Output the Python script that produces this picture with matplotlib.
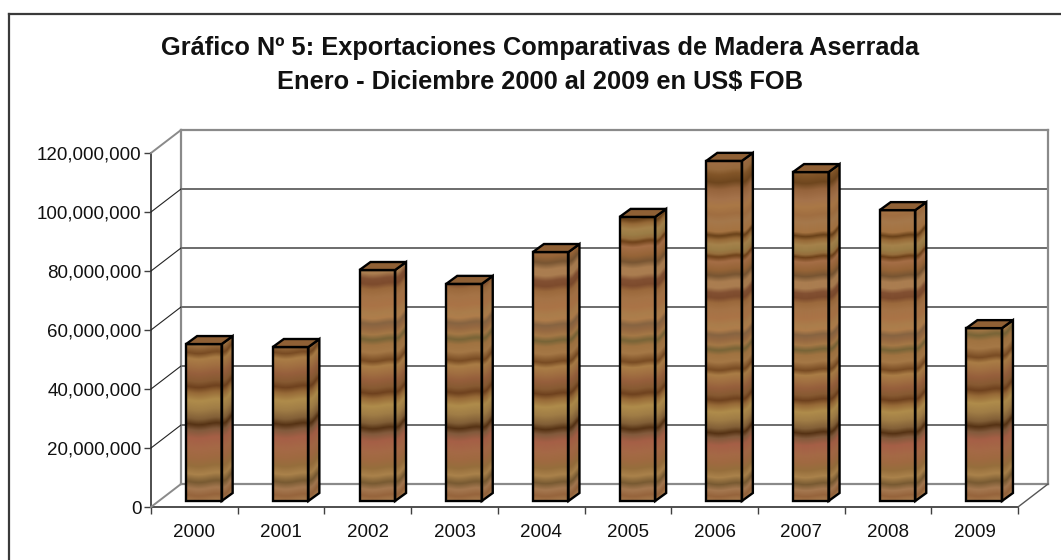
import numpy as np
import matplotlib
matplotlib.use('Agg')
import matplotlib.pyplot as plt
from matplotlib.lines import Line2D
from matplotlib.patches import Polygon, Rectangle
from matplotlib.ticker import FuncFormatter
from matplotlib.transforms import Affine2D, IdentityTransform

years = ['2000', '2001', '2002', '2003', '2004', '2005', '2006', '2007', '2008', '2009']
exports = [53.2e6, 52.2e6, 78.3e6, 73.6e6, 84.4e6, 96.3e6, 115.3e6, 111.5e6, 98.6e6, 58.6e6]
y_ticks = [0, 20e6, 40e6, 60e6, 80e6, 100e6, 120e6]

# wood colours, pixel rows measured up from the foot of the tallest bar
wood_rows = [0, 5, 11, 17, 24, 31, 39, 46, 56, 63, 68, 73, 81, 89, 96, 101, 106, 113, 119, 126,
             131, 139, 146, 151, 156, 161, 166, 171, 176, 183, 191, 198, 203, 208, 213, 219,
             225, 231, 239, 244, 247, 251, 256, 261, 265, 269, 279, 286, 294, 301, 311, 318,
             326, 331, 340]
wood_cols = [(165, 120, 75), (150, 100, 60), (165, 120, 80), (120, 90, 50), (170, 130, 75), (150, 110, 60),
             (160, 105, 65), (165, 105, 70), (165, 95, 70), (130, 90, 60), (85, 50, 20),
             (130, 95, 55), (160, 125, 70), (175, 140, 75), (150, 105, 55), (110, 65, 30),
             (135, 90, 50), (150, 95, 60), (160, 110, 65), (170, 125, 70), (120, 75, 35),
             (165, 120, 70), (160, 115, 65), (120, 100, 55), (165, 120, 70), (150, 105, 65),
             (135, 100, 65), (175, 125, 75), (170, 125, 75), (170, 115, 70), (165, 115, 70),
             (155, 105, 60), (125, 75, 45), (130, 80, 50), (170, 125, 80), (170, 125, 80),
             (120, 85, 50), (150, 100, 55), (165, 110, 70), (110, 65, 25), (150, 110, 60),
             (155, 125, 70), (165, 130, 75), (150, 105, 55), (105, 65, 25), (165, 115, 65),
             (165, 120, 75), (160, 110, 65), (170, 120, 70), (165, 115, 75), (150, 100, 60),
             (110, 70, 30), (130, 85, 40), (150, 105, 60), (160, 110, 70)]
# slow sideways drift of the grain
grain_shift = [0, 0.5, 1, 1.2, 1, 0.6, 0, -0.5, -0.8, -0.6]
# the texture is stretched a bit more on the short bars
grain_stretch = [1.13, 1.13, 1.07, 1.07, 1.06, 1.06, 1.0, 1.0, 1.0, 1.1]

W, H = 1061, 560
fig = plt.figure(figsize=(W / 100, H / 100), dpi=100, facecolor='white')
plt.rcParams['font.family'] = ['Liberation Sans', 'DejaVu Sans']

# outer frame, only top and left are inside the picture
fig.add_artist(Line2D([9, 9], [0, H - 14], transform=IdentityTransform(), color='#3a3a3a', lw=1.6))
fig.add_artist(Line2D([9, W], [H - 14, H - 14], transform=IdentityTransform(), color='#3a3a3a', lw=1.6))

# axes sit on the front plane of the fake 3d box
left, right, top, bottom = 151, 1018, 153, 507
ax = fig.add_axes([left / W, 1 - bottom / H, (right - left) / W, (bottom - top) / H])
ax.set_xlim(0, 10)
ax.set_ylim(0, 120e6)
ax.patch.set_alpha(0)
for s in ['top', 'right']:
    ax.spines[s].set_visible(False)
for s in ['left', 'bottom']:
    ax.spines[s].set_color('#404040')
    ax.spines[s].set_linewidth(1.3)

ax.set_yticks(y_ticks)
ax.yaxis.set_major_formatter(FuncFormatter(lambda v, p: f'{int(v):,}'))
ax.set_xticks(range(11))
ax.set_xticklabels([])
ax.set_xticks(np.arange(10) + 0.5, years, minor=True)
ax.tick_params(axis='y', length=5, width=1, color='#404040', labelsize=13.5, pad=2, labelcolor='#111111')
ax.tick_params(axis='x', which='major', length=5, width=1, color='#404040')
ax.tick_params(axis='x', which='minor', length=0, labelsize=13.5, pad=12, labelcolor='#111111')

# back wall
dx, dy = 30, 23
back = ax.transData + Affine2D().translate(dx, dy)
for v in y_ticks:
    edge = v == 0 or v == 120e6
    ax.plot([0, 10], [v, v], transform=back, clip_on=False, zorder=1,
            color='#8a8a8a' if edge else '#444444', lw=1.6 if edge else 1.1)
    x0, y0 = ax.transData.transform((0, v))
    fig.add_artist(Line2D([x0, x0 + dx], [y0, y0 + dy], transform=IdentityTransform(), zorder=1,
                          color='#8a8a8a' if edge else '#222222', lw=1.4 if edge else 0.8))
for xv in [0, 10]:
    ax.plot([xv, xv], [0, 120e6], transform=back, clip_on=False, zorder=1, color='#8a8a8a', lw=1.6)
x0, y0 = ax.transData.transform((10, 0))
fig.add_artist(Line2D([x0, x0 + dx], [y0, y0 + dy], transform=IdentityTransform(), color='#555555', lw=1))

# wood texture, bottom row first
rows = np.arange(0, 354)
tex = np.stack([np.stack([np.interp(rows + g, wood_rows, [c[k] for c in wood_cols]) for k in range(3)], axis=1)
                for g in grain_shift], axis=1) / 255
tex = tex[::-1]

bar_w = 0.41
shift = ax.transData + Affine2D().translate(0, 6)
sx, sy = 11, 8
for i, v in enumerate(exports):
    x1 = i + 0.405
    x2 = x1 + bar_w
    tex_top = 120e6 * grain_stretch[i]
    im = ax.imshow(tex, extent=(x1, x2, 0, tex_top), transform=shift, aspect='auto', zorder=4,
                   interpolation='bilinear')
    im.set_clip_path(Rectangle((x1, 0), bar_w, v, transform=shift))
    ax.add_patch(Rectangle((x1, 0), bar_w, v, transform=shift, fill=False, ec='black', lw=1.7, zorder=6,
                           joinstyle='miter'))

    # side face: sheared copy of the texture
    px, py0 = shift.transform((x2, 0))
    _, py1 = shift.transform((x2, v))
    _, pytop = shift.transform((x2, tex_top))
    m = [[sx, 0, px], [sy, (pytop - py0) / tex_top, py0], [0, 0, 1]]
    im2 = ax.imshow(tex * 0.97, extent=(0, 1, 0, tex_top), transform=Affine2D(np.array(m, dtype=float)),
                    aspect='auto', zorder=4, interpolation='bilinear')
    pts = [(px, py0), (px + sx, py0 + sy), (px + sx, py1 + sy), (px, py1)]
    im2.set_clip_path(Polygon(pts, transform=IdentityTransform()))
    ax.add_patch(Polygon(pts, closed=True, fill=False, ec='black', lw=1.7, zorder=6,
                         transform=IdentityTransform(), clip_on=False))

    # top face
    qx, qy = shift.transform((x1, v))
    ax.add_patch(Polygon([(qx, qy), (px, py1), (px + sx, py1 + sy), (qx + sx, qy + sy)], closed=True,
                         fc='#8f6035', ec='black', lw=1.7, zorder=6,
                         transform=IdentityTransform(), clip_on=False))

ax.set_xlim(0, 10)
ax.set_ylim(0, 120e6)

fig.text(540.5 / W, 1 - 48.5 / H, 'Gráfico Nº 5: Exportaciones Comparativas de Madera Aserrada',
         ha='center', va='center', fontsize=18.3, fontweight='bold', color='#111111')
fig.text(540 / W, 1 - 82 / H, 'Enero - Diciembre 2000 al 2009 en US$ FOB',
         ha='center', va='center', fontsize=18.3, fontweight='bold', color='#111111')

fig.savefig('out.png', dpi=100)
